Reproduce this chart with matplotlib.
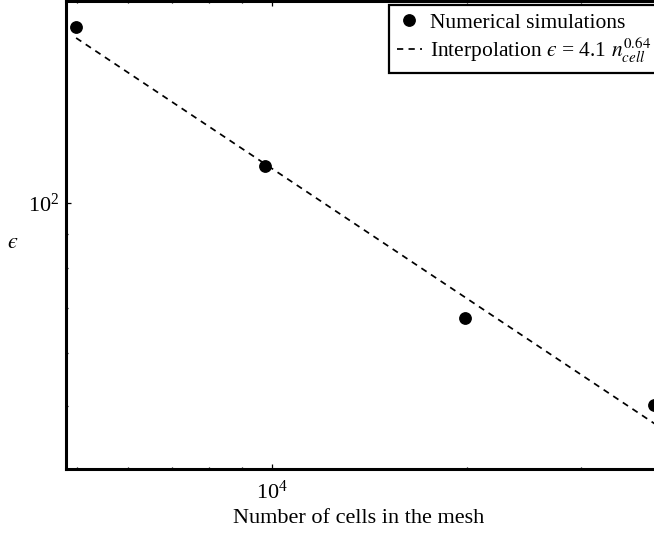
import matplotlib
matplotlib.use("Agg")
import matplotlib.pyplot as plt

# data
n_cells = [4984, 9754, 19860, 38860]
eps_sim = [182.3, 113.5, 67.6, 50.2]
fit_n = [4984, 40270]
fit_eps = [175.6, 46.1]

plt.rcParams['font.family'] = ['Liberation Serif', 'DejaVu Serif']
plt.rcParams['mathtext.fontset'] = 'stix'
plt.rcParams['lines.scale_dashes'] = False

W, H = 654, 536
fig = plt.figure(figsize=(W/100, H/100), dpi=100)
left, right, bottom, top = 66, 664, 469, 1
ax = fig.add_axes([left/W, (H-bottom)/H, (right-left)/W, (bottom-top)/H])

ax.plot(n_cells, eps_sim, 'o', color='black', markersize=8.2,
        label='Numerical simulations', clip_on=False, zorder=3)
ax.plot(fit_n, fit_eps, color='black', lw=1.25, dashes=(4.5, 3.8),
        label='Interpolation $\u03f5$ = 4.1 $n_{cell}^{0.64}$')

ax.set_xscale('log')
ax.set_yscale('log')
ax.set_xlim(4808, 40270)
ax.set_ylim(40.35, 199.2)

for s in ax.spines.values():
    s.set_linewidth(2.2)
ax.tick_params(which='both', direction='in', top=True, right=True,
               labelsize=16, width=0.9)
ax.tick_params(which='major', length=3.8)
ax.tick_params(axis='x', which='major', pad=8)
ax.tick_params(axis='y', which='major', pad=5)
ax.tick_params(which='minor', length=1.6)
ax.yaxis.set_minor_formatter(matplotlib.ticker.NullFormatter())
ax.xaxis.set_minor_formatter(matplotlib.ticker.NullFormatter())

ax.set_xlabel('Number of cells in the mesh', fontsize=16)
ax.xaxis.set_label_coords(358.5/W, (H-509)/H, transform=fig.transFigure)
ax.set_ylabel('$\u03f5$', fontsize=16, rotation=0, va='center', ha='center')
ax.yaxis.set_label_coords(13/W, (H-243)/H, transform=fig.transFigure)

leg = ax.legend(loc='upper left', bbox_to_anchor=(389/W, (H-5)/H),
                bbox_transform=fig.transFigure, fontsize=15.5,
                fancybox=False, edgecolor='black', framealpha=1,
                handlelength=1.2, handletextpad=0.35, borderpad=0.35,
                labelspacing=0.15, borderaxespad=0)
leg.get_frame().set_linewidth(1.6)

fig.savefig('out.png', dpi=100)
